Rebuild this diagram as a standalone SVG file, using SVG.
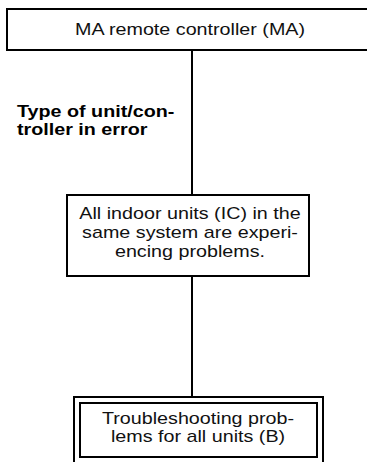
<svg xmlns="http://www.w3.org/2000/svg" width="367" height="462" viewBox="0 0 367 462">
<style>
.box{fill:#fff;stroke:#000;stroke-width:2}
.wire{stroke:#000;stroke-width:2;fill:none}
.t{font-family:"Liberation Sans",Arial,sans-serif;font-size:17px;fill:#111;text-anchor:middle}
.b{font-family:"Liberation Sans",Arial,sans-serif;font-size:17px;font-weight:bold;fill:#000}
</style>
<rect width="367" height="462" fill="#fff"/>
<g id="connectors">
<line class="wire" x1="192" y1="50" x2="192" y2="195"/>
<line class="wire" x1="192" y1="276" x2="192" y2="397"/>
</g>
<g id="ma-controller">
<rect class="box" x="7" y="9" width="372" height="41"/>
<text class="t" transform="translate(190,35) scale(1.16,1)">MA remote controller (MA)</text>
</g>
<g id="error-type-label">
<text class="b" transform="translate(17,117) scale(1.16,1)">Type of unit/con-</text>
<text class="b" transform="translate(17,135) scale(1.16,1)">troller in error</text>
</g>
<g id="all-indoor-units">
<rect class="box" x="67" y="195" width="242" height="81"/>
<text class="t" transform="translate(190,219) scale(1.16,1)">All indoor units (IC) in the</text>
<text class="t" transform="translate(190,238) scale(1.16,1)">same system are experi-</text>
<text class="t" transform="translate(190,257) scale(1.16,1)">encing problems.</text>
</g>
<g id="troubleshooting-all">
<rect class="box" x="74" y="397" width="249" height="80"/>
<rect class="box" x="80" y="403" width="237" height="54"/>
<text class="t" transform="translate(198,424) scale(1.16,1)">Troubleshooting prob-</text>
<text class="t" transform="translate(198,442) scale(1.16,1)">lems for all units (B)</text>
</g>
</svg>
